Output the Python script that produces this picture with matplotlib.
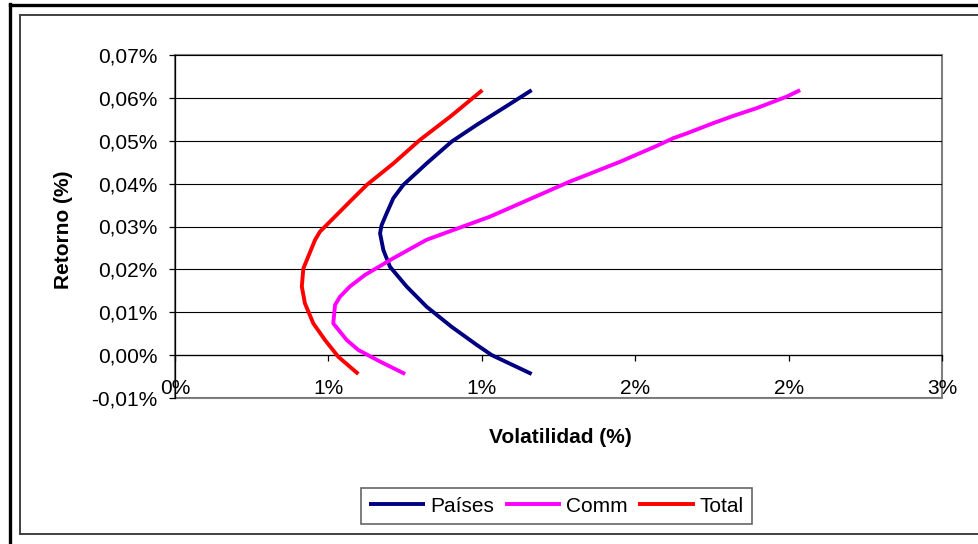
import matplotlib
matplotlib.use("Agg")
import matplotlib.pyplot as plt
from matplotlib.lines import Line2D
from matplotlib.patches import Rectangle
from matplotlib.ticker import FuncFormatter, MultipleLocator

plt.rcParams['font.family'] = ['Liberation Sans', 'DejaVu Sans']

# Efficient frontiers: volatility (%) vs. return (%)
paises_vol = [1.395, 1.284, 1.180, 1.082, 0.984, 0.893, 0.854, 0.828, 0.808, 0.802,
              0.815, 0.841, 0.906, 0.984, 1.082, 1.180, 1.239, 1.395]
paises_ret = [0.0618, 0.0576, 0.0537, 0.0498, 0.0447, 0.0397, 0.0366, 0.0331, 0.0303, 0.0284,
              0.0245, 0.0206, 0.0160, 0.0113, 0.0066, 0.0024, 0.0000, -0.0044]

comm_vol = [2.445, 2.393, 2.275, 2.184, 2.105, 2.001, 1.949, 1.884, 1.741, 1.584, 1.545,
            1.232, 0.984, 0.854, 0.743, 0.684, 0.645, 0.626, 0.619, 0.672, 0.717, 0.802, 0.900]
comm_ret = [0.0618, 0.0603, 0.0576, 0.0558, 0.0541, 0.0517, 0.0506, 0.0488, 0.0451, 0.0414, 0.0405,
            0.0323, 0.0269, 0.0226, 0.0187, 0.0160, 0.0136, 0.0117, 0.0074, 0.0035, 0.0012, -0.0015, -0.0044]

total_vol = [1.202, 1.121, 1.076, 0.958, 0.854, 0.750, 0.684, 0.639, 0.567, 0.548,
             0.502, 0.496, 0.508, 0.541, 0.587, 0.639, 0.717]
total_ret = [0.0618, 0.0578, 0.0556, 0.0502, 0.0447, 0.0397, 0.0358, 0.0331, 0.0288, 0.0269,
             0.0202, 0.0160, 0.0121, 0.0074, 0.0035, -0.0004, -0.0044]

series_names = ["Países", "Comm", "Total"]
series_colors = ["#000080", "#FF00FF", "#FF0000"]

W, H = 979, 544
fig = plt.figure(figsize=(W / 100, H / 100), dpi=100)
fig.patch.set_facecolor("white")

L, R, T, B = 175, 942, 55, 398
ax = fig.add_axes([L / W, 1 - B / H, (R - L) / W, (B - T) / H])

for xs, ys, name, col in zip([paises_vol, comm_vol, total_vol],
                             [paises_ret, comm_ret, total_ret],
                             series_names, series_colors):
    ax.plot(xs, ys, color=col, lw=2.8, label=name, solid_capstyle="butt", zorder=3)

ax.set_xlim(0, 3.0)
ax.set_ylim(-0.01, 0.07)
ax.xaxis.set_major_locator(MultipleLocator(0.6))
ax.yaxis.set_major_locator(MultipleLocator(0.01))
ax.xaxis.set_major_formatter(FuncFormatter(lambda v, p: f"{v:.0f}%"))
ax.yaxis.set_major_formatter(FuncFormatter(lambda v, p: f"{v:.2f}%".replace(".", ",").replace("-0,00", "0,00")))

ax.grid(axis="y", color="black", lw=0.8, zorder=1)
ax.set_axisbelow(True)

# axes: vertical at x=0, horizontal crossing at zero return
ax.spines["bottom"].set_position(("data", 0))
ax.spines["bottom"].set_color("black")
ax.spines["left"].set_color("black")
for s in ("top", "right"):
    ax.spines[s].set_visible(False)
ax.spines["bottom"].set_linewidth(0.9)
ax.spines["left"].set_linewidth(0.9)
ax.add_patch(Rectangle((0, 0), 1, 1, transform=ax.transAxes, fill=False,
                       edgecolor="#808080", lw=1.5, zorder=0.5, clip_on=False))

ax.tick_params(axis="x", direction="out", length=4.5, width=0.9, pad=13, labelsize=15)
ax.tick_params(axis="y", direction="out", length=4.5, width=0.9, pad=8, labelsize=15)

ax.text(0.502, -0.114, "Volatilidad (%)", transform=ax.transAxes, ha="center", va="center",
        fontsize=15, fontweight="bold")
ax.text(-0.146, 0.49, "Retorno (%)", transform=ax.transAxes, ha="center", va="center",
        rotation=90, fontsize=15, fontweight="bold")

leg = fig.legend(loc="center", bbox_to_anchor=(556.5 / W, 1 - 506 / H), ncol=3,
                 fontsize=15, frameon=True, fancybox=False, handlelength=2.7,
                 handletextpad=0.25, columnspacing=0.5, borderpad=0.4)
leg.get_frame().set_edgecolor("#404040")
leg.get_frame().set_linewidth(1.2)

# outer frames
def fx(px):
    return px / W

def fy(py):
    return 1 - py / H

fig.add_artist(Line2D([fx(10), fx(10)], [fy(4), fy(544)], color="black", lw=2.4))
fig.add_artist(Line2D([fx(10), fx(979)], [fy(5), fy(5)], color="black", lw=2.4))
fig.add_artist(Line2D([fx(20.5), fx(20.5)], [fy(15), fy(534)], color="#404040", lw=1.4))
fig.add_artist(Line2D([fx(20.5), fx(979)], [fy(15), fy(15)], color="#404040", lw=1.4))
fig.add_artist(Line2D([fx(20.5), fx(979)], [fy(534), fy(534)], color="#404040", lw=1.4))

fig.savefig("out.png", dpi=100)
